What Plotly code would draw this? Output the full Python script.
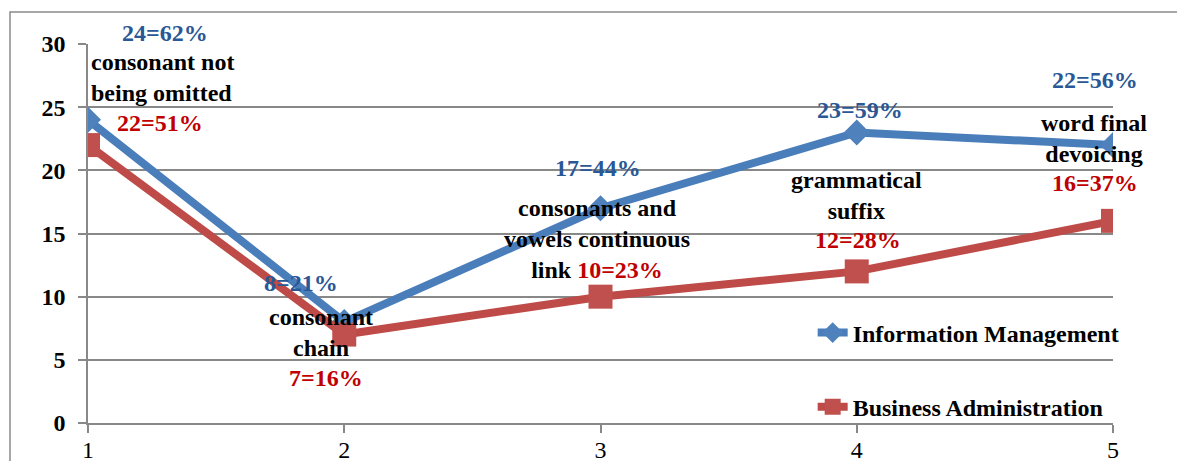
import plotly.graph_objects as go

# ---- data ----
x_vals = [1, 2, 3, 4, 5]
info_mgmt = [24, 8, 17, 23, 22]
bus_admin = [22, 7, 10, 12, 16]
info_labels = ["24=62%", "8=21%", "17=44%", "23=59%", "22=56%"]
bus_labels = ["22=51%", "7=16%", "10=23%", "12=28%", "16=37%"]
categories = ["consonant not<br>being omitted", "consonant<br>chain",
              "consonants and<br>vowels continuous<br>link", "grammatical<br>suffix",
              "word final<br>devoicing"]
y_ticks = [0, 5, 10, 15, 20, 25, 30]

# ---- styles ----
FONT = "Liberation Serif"
BLUE_LINE = "#4A7EBB"
BLUE_MARK = "#4F81BD"
RED_LINE = "#BE4B48"
RED_MARK = "#C0504D"
BLUE_TXT = "#2A5795"
RED_TXT = "#C00000"
GRID = "#888888"

fig = go.Figure()
fig.add_trace(go.Scatter(
    x=x_vals, y=info_mgmt, mode="lines+markers", name="<b>Information Management</b>",
    line=dict(color=BLUE_LINE, width=8),
    marker=dict(symbol="diamond", size=20, color=BLUE_MARK),
    legendgroup="a"))
fig.add_trace(go.Scatter(
    x=x_vals, y=bus_admin, mode="lines+markers", name="<b>Business Administration</b>",
    line=dict(color=RED_LINE, width=8),
    marker=dict(symbol="square", size=24, color=RED_MARK),
    legendgroup="b"))

# label offsets (pixels) relative to the data points
info_off = [(77, 87), (-43, 39), (-3, 40), (3, 22), (-18, 65)]
bus_off = [(72, 22), (-18, -43), None, (1, 31), (-18, 38)]
# category text: (anchor series, xshift, yshift, xanchor)
cat_off = [("i", 1, 42, "left"), ("b", -23, 2, "center"), ("i", -4, -31, "center"),
           ("b", 0, 76, "center"), ("i", -19, 7, "center")]

ann = []
base = dict(family=FONT, size=24)
for i, x in enumerate(x_vals):
    dx, dy = info_off[i]
    ann.append(dict(x=x, y=info_mgmt[i], text="<b>%s</b>" % info_labels[i], showarrow=False,
                    xshift=dx, yshift=dy, font=dict(**base, color=BLUE_TXT)))
    if bus_off[i] is not None:
        dx, dy = bus_off[i]
        ann.append(dict(x=x, y=bus_admin[i], text="<b>%s</b>" % bus_labels[i], showarrow=False,
                        xshift=dx, yshift=dy, font=dict(**base, color=RED_TXT)))
    s, dx, dy, xa = cat_off[i]
    txt = categories[i]
    if bus_off[i] is None:
        txt = txt + " <span style='color:%s'>%s</span>" % (RED_TXT, bus_labels[i])
    lines = txt.split("<br>")
    txt = "<br>".join("<b>%s</b>" % ln for ln in lines)
    ann.append(dict(x=x, y=(info_mgmt[i] if s == "i" else bus_admin[i]), text=txt,
                    showarrow=False, xshift=dx, yshift=dy, xanchor=xa,
                    align="center" if xa == "center" else "left",
                    font=dict(**base, color="black")))

fig.update_layout(
    width=1177, height=461,
    margin=dict(l=88, r=64, t=44, b=38),
    paper_bgcolor="white", plot_bgcolor="white",
    font=dict(family=FONT, size=24, color="black"),
    annotations=ann,
    showlegend=True,
    legend=dict(x=0.707, y=0.297, xanchor="left", yanchor="top",
                font=dict(family=FONT, size=24, color="black"),
                tracegroupgap=40, traceorder="grouped", bgcolor="rgba(0,0,0,0)"),
    shapes=[dict(type="rect", xref="paper", yref="paper",
                 x0=-0.0761, x1=1.2, y0=-0.3, y1=1.0844,
                 line=dict(color="#8a8a8a", width=1.5), layer="below")],
)
fig.update_xaxes(range=[1, 5], tickvals=x_vals, showgrid=False, zeroline=False,
                 showline=True, linecolor=GRID, linewidth=1.5, automargin=False,
                 ticks="outside", ticklen=8, tickcolor=GRID, tickwidth=1.5,
                 ticklabelstandoff=-4,
                 tickfont=dict(family=FONT, size=24, color="black"))
fig.update_yaxes(range=[0, 30], tickvals=y_ticks, showgrid=True, gridcolor=GRID,
                 gridwidth=1.5, zeroline=False, automargin=False,
                 showline=True, linecolor=GRID, linewidth=1.5,
                 ticks="outside", ticklen=8, tickcolor=GRID, tickwidth=1.5,
                 ticklabelstandoff=8,
                 ticktext=["<b>%d</b>" % v for v in y_ticks],
                 tickfont=dict(family=FONT, size=24, color="black"))

fig.write_html("out.html")
